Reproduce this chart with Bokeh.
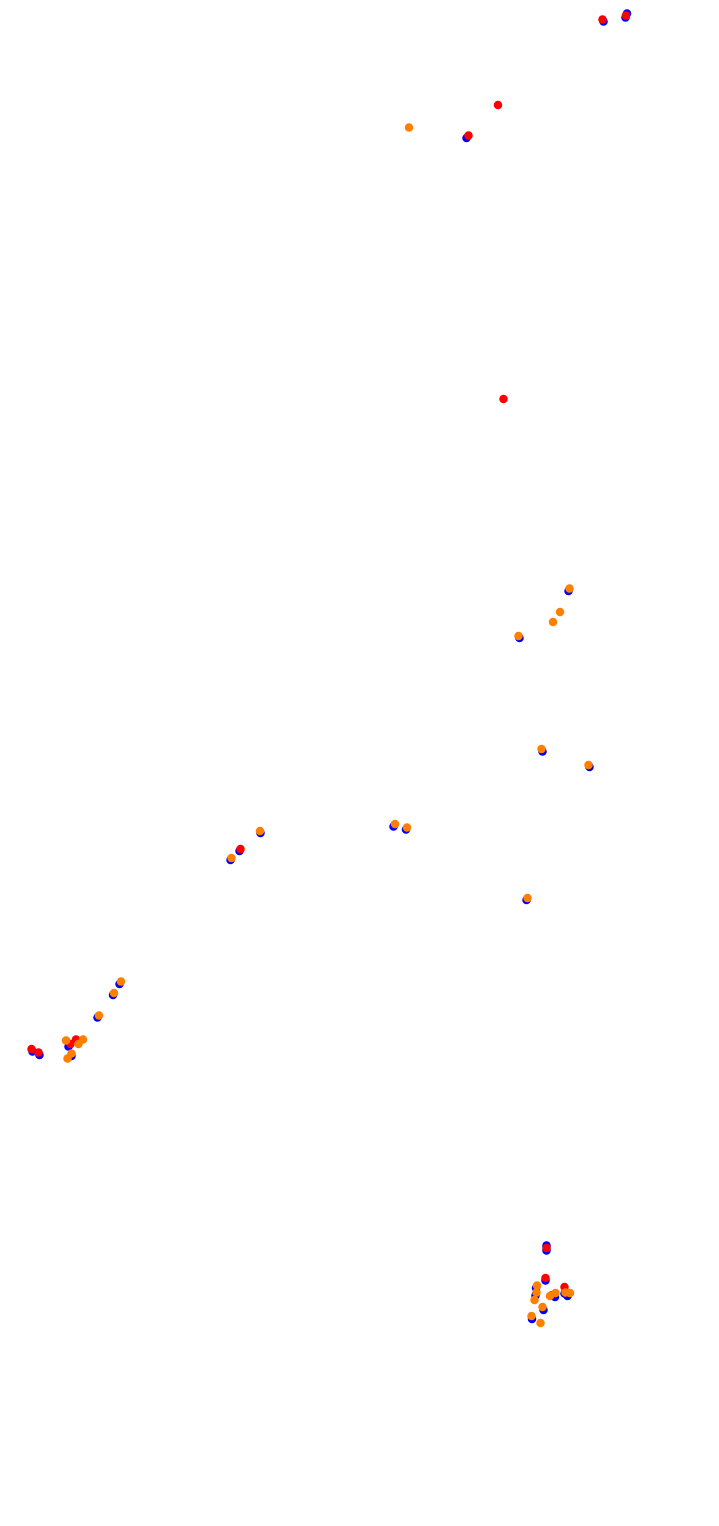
from bokeh.plotting import figure
from bokeh.models import Range1d
from bokeh.embed import file_html
from bokeh.resources import INLINE

blue_x = [603, 626.5, 625, 466, 568, 519, 542, 589, 260, 239, 230, 393, 405.5, 526,
          119, 112.5, 97, 32, 39, 68, 71, 546, 546, 545, 535.5, 535, 564, 551,
          554.5, 567, 543, 531.5]
blue_y = [21, 13, 17, 137.5, 590.5, 637.5, 751, 766.5, 832.5, 850.5, 859.5, 826, 829, 899.5,
          983.5, 994.5, 1017, 1051, 1054.5, 1046, 1055.5, 1245, 1250, 1280, 1287.5, 1295, 1293, 1295,
          1296.5, 1295.5, 1309.5, 1318.5]

red_x = [602, 625.5, 497.5, 468, 503, 240, 31, 38, 70, 75.5, 546, 545, 564]
red_y = [19, 15, 104.5, 135, 398.5, 848.5, 1048.5, 1052, 1043.5, 1039, 1247.5, 1277.5, 1286.5]

orange_x = [408.5, 569, 559.5, 552.5, 518, 541, 588, 259.5, 231, 394.5, 406.5, 527,
            120.5, 113.5, 98.5, 65.5, 82.5, 78, 71, 67, 536.5, 536, 534, 549.5, 555,
            565, 569.5, 542, 531, 540]
orange_y = [127, 588, 611.5, 621.5, 635.5, 748.5, 764.5, 830.5, 857.5, 823.5, 827, 897.5,
            981, 992.5, 1015, 1040, 1039, 1043.5, 1053, 1058, 1285, 1292, 1299.5, 1295.5, 1292.5,
            1292, 1292.5, 1306.5, 1315.5, 1322.5]

p = figure(width=703, height=1510, output_backend="svg", toolbar_location=None,
           x_range=Range1d(0, 703), y_range=Range1d(1510, 0), min_border=0)
p.axis.visible = False
p.grid.visible = False
p.outline_line_color = None
p.background_fill_color = "white"

p.scatter(blue_x, blue_y, size=8.5, fill_color="#0000ff", line_color=None)
p.scatter(red_x, red_y, size=8.5, fill_color="#ff0000", line_color=None)
p.scatter(orange_x, orange_y, size=8.5, fill_color="#ff8000", line_color=None)

open("out.html", "w").write(file_html(p, INLINE))
